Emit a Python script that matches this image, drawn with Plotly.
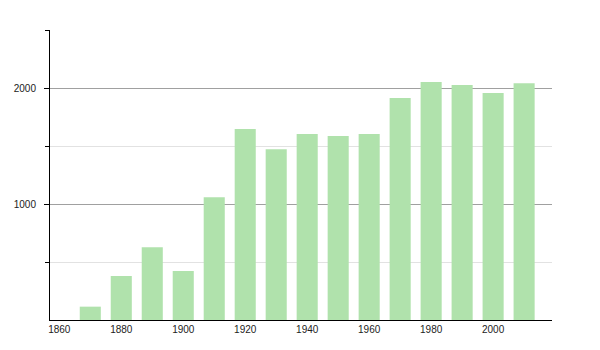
import plotly.graph_objects as go

years = [1870, 1880, 1890, 1900, 1910, 1920, 1930, 1940, 1950, 1960, 1970, 1980, 1990, 2000, 2010]
population = [115, 380, 627, 422, 1058, 1647, 1471, 1603, 1586, 1603, 1914, 2052, 2026, 1957, 2040]
x_ticks = [1860, 1880, 1900, 1920, 1940, 1960, 1980, 2000]
y_major = [1000, 2000]
y_minor = [500, 1500, 2500]

fig = go.Figure(go.Bar(
    x=years, y=population, width=6.8,
    marker=dict(color="#b0e2ac", line=dict(width=0)),
))

fig.update_layout(
    width=600, height=350,
    margin=dict(l=50, r=48, t=30, b=30),
    plot_bgcolor="white", paper_bgcolor="white",
    showlegend=False,
    font=dict(family="Liberation Sans, Arial, sans-serif", size=10, color="#222"),
)
fig.update_xaxes(
    range=[1857, 2019], tickvals=x_ticks, ticktext=[str(t) for t in x_ticks],
    showgrid=False, showline=True, linecolor="black", linewidth=1,
    ticks="", zeroline=False,
)
fig.update_yaxes(
    range=[0, 2500], tickvals=y_major, ticktext=[str(t) for t in y_major],
    showgrid=True, gridcolor="#a0a0a0", gridwidth=1,
    showline=True, linecolor="black", linewidth=1,
    ticks="outside", ticklen=5, tickcolor="black", zeroline=False,
    ticklabelstandoff=6,
    minor=dict(tickvals=y_minor, showgrid=True, gridcolor="#e2e2e2",
               ticks="outside", ticklen=4, tickcolor="black"),
)

fig.write_html("out.html")
